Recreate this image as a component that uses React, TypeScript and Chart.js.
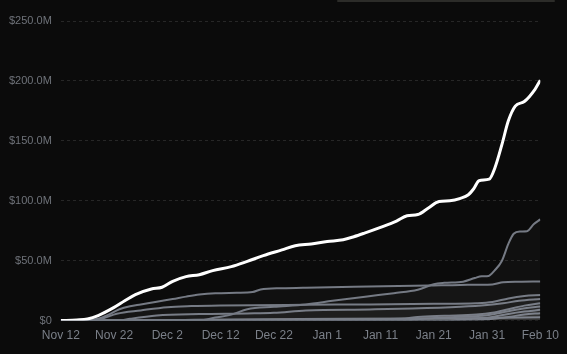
import React, { useEffect, useRef } from "react";
import { Chart, registerables } from "chart.js";

Chart.register(...registerables);

// Day offset from Nov 12, value in $M
const totalSeries: [number, number][] = [
  [0, 0], [3, 0.6], [5, 1.4], [7, 4.2], [10, 11], [12, 16.5], [14, 21.7], [17, 26.4], [19, 27.8],
  [21, 32.8], [23.5, 36.7], [26, 38.3], [28.5, 41.7], [32, 45], [35, 49.4], [38, 54.2], [41.5, 59],
  [44, 62.5], [47, 64], [50, 66], [53, 67.5], [55, 70], [57, 73], [60, 77.8], [63, 83], [65, 87.5],
  [67, 88.5], [69, 94], [71, 99.4], [73, 100], [75, 102], [76.5, 105], [77.5, 110], [78.5, 116.7],
  [80.4, 118], [81.5, 127.8], [82.8, 147], [84, 166.7], [85.3, 179], [87, 182.8], [89, 193], [90, 200.6],
];

const seriesA: [number, number][] = [
  [0, 0], [26, 0], [29, 2.5], [32, 5], [35, 9.5], [40, 11.5], [46, 13.5], [51, 16.5], [57.5, 20.2],
  [62.5, 22.9], [67, 25.7], [70, 30.4], [72, 31.5], [75.5, 32.5], [77.7, 35.5], [79, 37], [80.3, 37.3],
  [81.4, 41.7], [82.8, 50], [84, 64], [85, 72.5], [86.2, 74.4], [87.5, 74.6], [88.8, 80.6], [90, 84.5],
];
const seriesB: [number, number][] = [
  [0, 0], [5, 0.2], [7, 1.5], [9, 5], [11, 9.5], [13, 12], [15, 13.5], [18, 15.8], [21, 18],
  [23.5, 20], [26, 21.7], [29, 22.8], [33, 23.2], [36, 23.8], [37.5, 26], [41.5, 27], [46, 27.5],
  [55, 28.2], [69, 29.2], [75, 29.8], [81, 30.2], [83, 32], [86, 32.5], [90, 32.7],
];
const seriesC: [number, number][] = [
  [0, 0], [6, 0], [8, 2], [10.5, 5.7], [15, 8.5], [20, 11.2], [24.5, 12.1], [30, 12.6], [46, 13.2],
  [58, 13.5], [70, 14], [78, 14.5], [81, 15.5], [84, 18.5], [87, 20.5], [90, 21.3],
];
const seriesD: [number, number][] = [
  [0, 0], [11, 0], [13, 1.5], [18, 4.3], [26, 5.5], [35, 6], [40, 6.5], [46, 8.5], [58, 9.3],
  [66, 10], [75, 11.5], [80, 13], [83, 14.5], [86, 16.5], [90, 18],
];
const seriesE: [number, number][] = [
  [0, 0], [20, 0], [30, 0.5], [50, 1], [64, 1.5], [67, 3], [72, 4], [78, 5], [81, 6.5], [84, 9.5],
  [87, 12.5], [90, 14.5],
];
const seriesF: [number, number][] = [
  [0, 0], [64, 0], [68, 1.5], [74, 3], [80, 4.5], [83, 7], [86, 9.5], [90, 11.8],
];
const seriesG: [number, number][] = [
  [0, 0], [70, 0], [76, 1], [81, 3], [84, 5.5], [87, 7.5], [90, 9],
];
const seriesH: [number, number][] = [
  [0, 0], [74, 0], [80, 1], [84, 3], [87, 5], [90, 6.2],
];
const seriesI: [number, number][] = [
  [0, 0], [15, 0], [25, 0.8], [45, 1.3], [65, 1.8], [80, 2.2], [90, 2.7],
];

const graySeries = [seriesA, seriesB, seriesC, seriesD, seriesE, seriesF, seriesG, seriesH, seriesI];

const startDate = Date.UTC(2023, 10, 12);
const monthNames = ["Jan", "Feb", "Mar", "Apr", "May", "Jun", "Jul", "Aug", "Sep", "Oct", "Nov", "Dec"];

const toPoints = (s: [number, number][]) => s.map(([x, y]) => ({ x, y: y * 1e6 }));

export default function App() {
  const ref = useRef<HTMLCanvasElement>(null);
  useEffect(() => {
    document.body.style.margin = "0";
    document.body.style.background = "#0b0b0b";
    const ctx = ref.current!;
    const grayDatasets = graySeries.map((s) => ({
      data: toPoints(s),
      borderColor: "#757a84",
      borderWidth: 2,
      backgroundColor: "rgba(160,165,180,0.035)",
      fill: "origin" as const,
      pointRadius: 0,
      cubicInterpolationMode: "monotone" as const,
      order: 1,
    }));
    const chart = new Chart(ctx, {
      type: "line",
      data: {
        datasets: [
          {
            data: toPoints(totalSeries),
            borderColor: "#ffffff",
            borderWidth: 3,
            fill: false,
            pointRadius: 0,
            cubicInterpolationMode: "monotone",
            order: 0,
          },
          ...grayDatasets,
        ],
      },
      options: {
        animation: false,
        responsive: false,
        devicePixelRatio: 1,
        layout: { padding: { top: 21, right: 25, bottom: 3, left: 0 } },
        plugins: { legend: { display: false }, tooltip: { enabled: false } },
        scales: {
          x: {
            type: "linear",
            min: 0,
            max: 90,
            grid: { display: false, drawTicks: false },
            border: { display: false },
            ticks: {
              stepSize: 10,
              color: "#7b8089",
              padding: 8,
              maxRotation: 0,
              font: { size: 12, family: "'Liberation Sans', Arial, sans-serif" },
              callback: (v: any) => {
                const d = new Date(startDate + Number(v) * 86400000);
                return `${monthNames[d.getUTCMonth()]} ${d.getUTCDate()}`;
              },
            },
          },
          y: {
            min: 0,
            max: 250e6,
            grid: { color: "#272727", drawTicks: false },
            border: { display: false, dash: [3, 3] },
            ticks: {
              stepSize: 50e6,
              color: "#6f737a",
              padding: 9,
              font: { size: 11, family: "'Liberation Sans', Arial, sans-serif" },
              callback: (v: any) => (Number(v) === 0 ? "$0" : `$${(Number(v) / 1e6).toFixed(1)}M`),
            },
          },
        },
      },
    });
    return () => chart.destroy();
  }, []);
  return (
    <div style={{ position: "relative", width: 567, height: 354, background: "#0b0b0b" }}>
      <div style={{ position: "absolute", top: 0, left: 337, width: 218, height: 2, background: "#2c2c29", borderRadius: 1 }} />
      <canvas ref={ref} width={567} height={354} />
    </div>
  );
}
